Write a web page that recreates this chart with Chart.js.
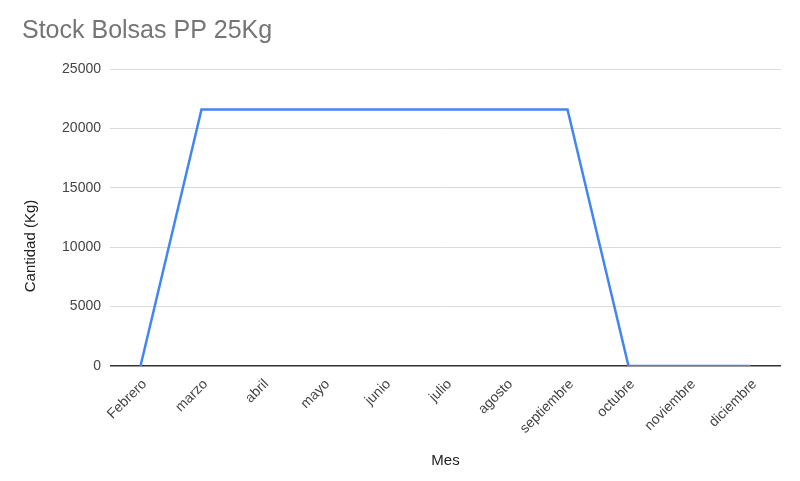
<!DOCTYPE html>
<html>
<head>
<meta charset="utf-8">
<script src="https://cdn.jsdelivr.net/npm/chart.js@4"></script>
<style>
  html, body { margin: 0; padding: 0; background: #fff; }
  #wrap { width: 800px; height: 481px; }
</style>
</head>
<body>
<div id="wrap"><canvas id="stockChart" width="800" height="481"></canvas></div>
<script>
const months = ['Febrero', 'marzo', 'abril', 'mayo', 'junio', 'julio', 'agosto', 'septiembre', 'octubre', 'noviembre', 'diciembre'];
const stockKg = [0, 21600, 21600, 21600, 21600, 21600, 21600, 21600, 0, 0, 0];
const yTicks = [0, 5000, 10000, 15000, 20000, 25000];

const FONT = '"Liberation Sans", Arial, sans-serif';

// y axis title drawn by hand so it can sit a bit below the middle, like the original
const yTitlePlugin = {
    id: 'yTitle',
    afterDraw(chart) {
        const ctx = chart.ctx;
        ctx.save();
        ctx.translate(31, 246);
        ctx.rotate(-Math.PI / 2);
        ctx.font = '15px ' + FONT;
        ctx.fillStyle = '#222';
        ctx.textAlign = 'center';
        ctx.textBaseline = 'middle';
        ctx.fillText('Cantidad (Kg)', 0, 0);
        ctx.restore();
    }
};

new Chart(document.getElementById('stockChart'), {
    type: 'line',
    data: {
        labels: months,
        datasets: [{
            label: 'Stock',
            data: stockKg,
            borderColor: '#4285F4',
            borderWidth: 2.5,
            pointRadius: 0,
            tension: 0,
            fill: false,
        }],
    },
    options: {
        responsive: false,
        animation: false,
        layout: { padding: { left: 22, right: 19, top: 0, bottom: 0 } },
        plugins: {
            legend: { display: false },
            tooltip: { enabled: false },
            title: {
                display: true,
                text: 'Stock Bolsas PP 25Kg',
                align: 'start',
                color: '#757575',
                font: { family: FONT, size: 25, weight: 'normal' },
                padding: { top: 16, bottom: 23 },
            },
        },
        scales: {
            x: {
                offset: true,
                grid: { display: false, drawTicks: false },
                border: { display: false },
                ticks: {
                    color: '#444',
                    font: { family: FONT, size: 14 },
                    minRotation: 45,
                    maxRotation: 45,
                    padding: 10,
                    labelOffset: 4,
                },
                title: {
                    display: true,
                    text: 'Mes',
                    color: '#222',
                    font: { family: FONT, size: 15 },
                    padding: { top: 11, bottom: 11 },
                },
                afterFit(scale) { scale.height = 115; },
            },
            y: {
                min: 0,
                max: 25000,
                afterBuildTicks(scale) { scale.ticks = yTicks.map(v => ({ value: v })); },
                grid: {
                    color: ctx => ctx.tick && ctx.tick.value === 0 ? '#333' : '#dadada',
                    lineWidth: ctx => ctx.tick && ctx.tick.value === 0 ? 1.5 : 1,
                    drawTicks: false,
                },
                border: { display: false },
                ticks: {
                    color: '#444',
                    font: { family: FONT, size: 14 },
                    padding: 9,
                    callback: v => String(v),
                },
                afterFit(scale) { scale.width = 88; },
            },
        },
    },
    plugins: [yTitlePlugin],
});
</script>
</body>
</html>
